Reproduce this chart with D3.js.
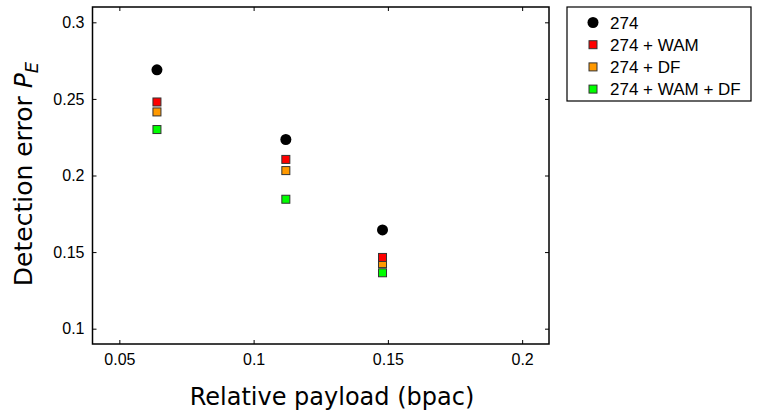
<!DOCTYPE html>
<html>
<head>
<meta charset="utf-8">
<script src="https://cdn.jsdelivr.net/npm/d3@7"></script>
<style>
  body { margin: 0; background: #fff; }
  text { fill: #000; }
  .tick text { font-family: "Liberation Sans", Arial, sans-serif; font-size: 16px; }
</style>
</head>
<body>
<svg id="chart" width="758" height="413"></svg>
<script>
// data
var payloads = [0.064, 0.112, 0.148];
var series_names = ["274", "274 + WAM", "274 + DF", "274 + WAM + DF"];
var series_colors = ["#000000", "#ff0000", "#ff9900", "#00ff00"];
var err_274 = [0.269, 0.2235, 0.1645];
var err_wam = [0.248, 0.2105, 0.1465];
var err_df = [0.2415, 0.2032, 0.1425];
var err_wam_df = [0.230, 0.1845, 0.1365];
var x_ticks = [0.05, 0.1, 0.15, 0.2];
var y_ticks = [0.1, 0.15, 0.2, 0.25, 0.3];

var all_series = [err_274, err_wam, err_df, err_wam_df];

var svg = d3.select("#chart");
// plot box (note: "top" is a reserved window property, so prefixed names)
var p_left = 92.5, p_right = 549, p_top = 7, p_bottom = 344;

var x = d3.scaleLinear().domain([0.04, 0.21]).range([p_left, p_right]);
var y = d3.scaleLinear().domain([0.09, 0.31]).range([p_bottom, p_top]);

var fmt = function(d) { return String(d); };

// axes with ticks pointing inward, mirrored on the top and right
var gx = svg.append("g").attr("transform", "translate(0," + p_bottom + ")")
  .call(d3.axisBottom(x).tickValues(x_ticks).tickFormat(fmt).tickSizeInner(-4).tickSizeOuter(0).tickPadding(10));
var gy = svg.append("g").attr("transform", "translate(" + p_left + ",0)")
  .call(d3.axisLeft(y).tickValues(y_ticks).tickFormat(fmt).tickSizeInner(-4).tickSizeOuter(0).tickPadding(8));
var gx2 = svg.append("g").attr("transform", "translate(0," + p_top + ")")
  .call(d3.axisTop(x).tickValues(x_ticks).tickFormat("").tickSizeInner(-4).tickSizeOuter(0));
var gy2 = svg.append("g").attr("transform", "translate(" + p_right + ",0)")
  .call(d3.axisRight(y).tickValues(y_ticks).tickFormat("").tickSizeInner(-4).tickSizeOuter(0));

[gx, gy, gx2, gy2].forEach(function(g) {
  g.select(".domain").remove();
  g.selectAll(".tick line").attr("stroke", "#000").attr("stroke-width", 1);
});

svg.append("rect")
  .attr("x", p_left).attr("y", p_top)
  .attr("width", p_right - p_left).attr("height", p_bottom - p_top)
  .attr("fill", "none").attr("stroke", "#000").attr("stroke-width", 1.5);

// marks
function add_mark(sel, i, cx, cy) {
  if (i == 0) {
    sel.append("circle").attr("cx", cx).attr("cy", cy).attr("r", 5.5)
      .attr("fill", series_colors[i]);
  } else {
    sel.append("rect").attr("x", cx - 4).attr("y", cy - 4)
      .attr("width", 8).attr("height", 8)
      .attr("fill", series_colors[i]).attr("stroke", "#333").attr("stroke-width", 1);
  }
}

var marks = svg.append("g");
// draw in reverse order so the circle and red square end on top
for (var s = all_series.length - 1; s >= 0; s--) {
  all_series[s].forEach(function(v, j) {
    add_mark(marks, s, x(payloads[j]), y(v));
  });
}

// axis labels
var label_font = "'DejaVu Sans', sans-serif";
svg.append("text")
  .attr("x", 332).attr("y", 405)
  .attr("text-anchor", "middle")
  .style("font-family", label_font).style("font-size", "24px")
  .text("Relative payload (bpac)");

var ylab = svg.append("text")
  .attr("transform", "translate(32,174) rotate(-90)")
  .attr("text-anchor", "middle")
  .style("font-family", label_font).style("font-size", "25px");
ylab.append("tspan").text("Detection error ");
ylab.append("tspan").style("font-style", "italic").text("P");
ylab.append("tspan").style("font-style", "italic").style("font-size", "18px").attr("dy", 6).text("E");

// legend
var lg = svg.append("g");
lg.append("rect").attr("x", 567).attr("y", 7).attr("width", 184).attr("height", 94)
  .attr("fill", "#fff").attr("stroke", "#000").attr("stroke-width", 1.2);
series_names.forEach(function(name, i) {
  var ry = 22.5 + i * 22.2;
  add_mark(lg, i, 593, ry);
  lg.append("text").attr("x", 610).attr("y", ry + 6)
    .style("font-family", "'Liberation Sans', Arial, sans-serif").style("font-size", "17px")
    .text(name);
});
</script>
</body>
</html>
